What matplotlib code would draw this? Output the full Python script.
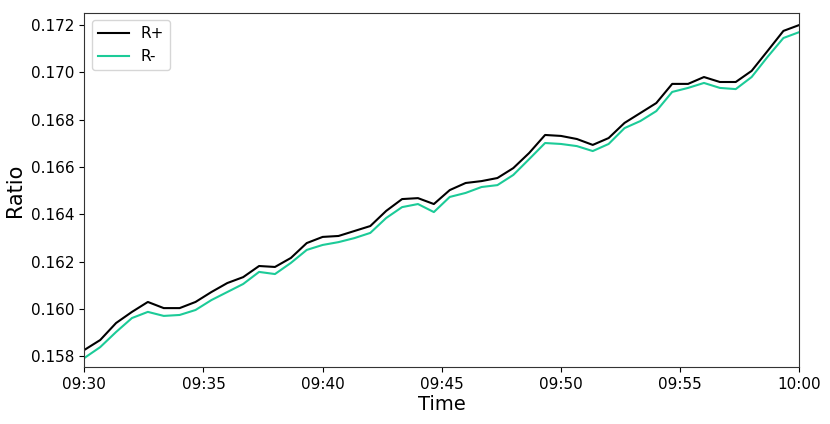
import matplotlib
matplotlib.use("Agg")
import matplotlib.pyplot as plt
import matplotlib.dates as mdates
import numpy as np
import pandas as pd

# Data: 46 samples, one every 40 s from 09:30 to 10:00
times = pd.date_range("2024-01-01 09:30:00", "2024-01-01 10:00:00", periods=46)

r_plus = [0.15826, 0.15868, 0.15940, 0.15987, 0.16029, 0.16003, 0.16003, 0.16029,
          0.16071, 0.16109, 0.16134, 0.16181, 0.16177, 0.16215, 0.16278, 0.16304,
          0.16308, 0.16329, 0.16350, 0.16414, 0.16464, 0.16468, 0.16443, 0.16502,
          0.16532, 0.16540, 0.16553, 0.16595, 0.16659, 0.16735, 0.16731, 0.16718,
          0.16693, 0.16722, 0.16786, 0.16828, 0.16870, 0.16951, 0.16951, 0.16980,
          0.16959, 0.16959, 0.17006, 0.17090, 0.17175, 0.17200]

r_minus = [0.15792, 0.15838, 0.15902, 0.15961, 0.15987, 0.15970, 0.15974, 0.15995,
           0.16037, 0.16071, 0.16105, 0.16156, 0.16147, 0.16194, 0.16249, 0.16270,
           0.16282, 0.16299, 0.16321, 0.16384, 0.16430, 0.16443, 0.16409, 0.16473,
           0.16490, 0.16515, 0.16523, 0.16566, 0.16633, 0.16701, 0.16697, 0.16688,
           0.16667, 0.16697, 0.16764, 0.16794, 0.16836, 0.16917, 0.16934, 0.16955,
           0.16934, 0.16929, 0.16980, 0.17065, 0.17145, 0.17170]

y_ticks = [0.158, 0.160, 0.162, 0.164, 0.166, 0.168, 0.170, 0.172]

fig = plt.figure(figsize=(8.30, 4.24), dpi=100)
ax = fig.add_axes([84.3 / 830, 1 - 367 / 424, (799.3 - 84.3) / 830, (367 - 12.7) / 424])

ax.plot(times, r_plus, color="black", lw=1.5, label="R+")
ax.plot(times, r_minus, color="#1ccb98", lw=1.5, label="R-")

ax.set_xlim(times[0], times[-1])
ax.set_ylim(0.15754, 0.17252)
ax.set_yticks(y_ticks)
ax.set_yticklabels([f"{v:.3f}" for v in y_ticks])
ax.xaxis.set_major_locator(mdates.MinuteLocator(byminute=range(0, 60, 5)))
ax.xaxis.set_major_formatter(mdates.DateFormatter("%H:%M"))

ax.tick_params(labelsize=11)
ax.set_xlabel("Time", fontsize=14, labelpad=2)
ax.set_ylabel("Ratio", fontsize=15, labelpad=4)
for s in ax.spines.values():
    s.set_color("#333333")

ax.legend(loc="upper left", fontsize=11)

fig.savefig("out.png", dpi=100)
